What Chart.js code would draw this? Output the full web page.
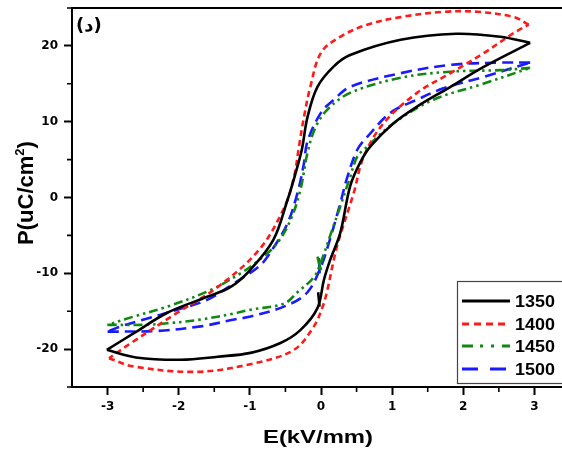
<!DOCTYPE html>
<html><head><meta charset="utf-8">
<script src="https://cdn.jsdelivr.net/npm/chart.js@4.4.0/dist/chart.umd.min.js"></script>
<style>
html,body{margin:0;padding:0;background:#fff;overflow:hidden;width:562px;height:449px}
#wrap{position:relative;width:562px;height:449px;overflow:hidden;background:#fff}
canvas{display:block}
</style></head>
<body><div id="wrap"><canvas id="c" width="572" height="449" style="width:572px;height:449px"></canvas></div>
<script>
// ---- tick definitions ----
const xMajor = [-3, -2, -1, 0, 1, 2, 3];
const xMinor = [-2.5, -1.5, -0.5, 0.5, 1.5, 2.5];
const yMajor = [-20, -10, 0, 10, 20];
const yMinor = [-25, -15, -5, 5, 15, 25];
const seriesNames = ['1350', '1400', '1450', '1500'];

// ---- 1350 ----
const e1350Up = [2.94, 2.52, 1.9, 1.12, 0.41, 0.18, -0.05, -0.19, -0.27, -0.37, -0.47, -0.67, -0.99, -1.27, -1.6, -2.16, -2.63, -3.01];
const p1350Up = [20.4, 21.2, 21.6, 20.8, 18.8, 17.3, 14.6, 10.6, 6.3, 2.8, -0.3, -5.6, -9.5, -11.8, -13.1, -15.2, -17.9, -20.1];
const e1350Dn = [-3.01, -2.6, -1.97, -1.45, -0.99, -0.57, -0.29, -0.05, 0.04, 0.13, 0.27, 0.41, 0.55, 0.7, 1.02, 1.35, 1.82, 2.28, 2.94];
const p1350Dn = [-20.1, -21.1, -21.4, -21.0, -20.5, -19.2, -17.5, -14.6, -10.9, -8.2, -4.7, 1.5, 4.6, 6.8, 9.8, 12.0, 14.6, 17.2, 20.4];
const e1350Hook = [-0.04, -0.02];
const p1350Hook = [-12.5, -14.4];

// ---- 1400 ----
const e1400Up = [2.92, 2.71, 2.2, 1.72, 1.12, 0.65, 0.27, 0.0, -0.15, -0.24, -0.31, -0.38, -0.52, -0.87, -1.45, -2.02, -2.67, -2.98];
const p1400Up = [22.8, 23.8, 24.5, 24.5, 23.8, 22.8, 21.2, 19.1, 14.6, 10.6, 6.7, 2.7, -1.4, -6.9, -11.8, -15.2, -19.2, -21.2];
const e1400Dn = [-2.98, -2.63, -1.74, -0.95, -0.38, -0.1, 0.02, 0.09, 0.18, 0.25, 0.46, 0.6, 0.88, 1.35, 1.82, 2.28, 2.71, 2.92];
const p1400Dn = [-21.2, -22.3, -23.0, -21.9, -20.1, -17.0, -14.5, -12.2, -8.2, -5.6, 0.6, 5.4, 9.8, 13.8, 16.4, 19.0, 21.7, 22.8];

// ---- 1450 ----
const e1450Up = [2.94, 2.52, 1.82, 1.12, 0.41, 0.09, -0.08, -0.19, -0.29, -0.43, -0.63, -0.89, -1.13, -1.55, -2.16, -2.63, -3.0];
const p1450Up = [17.1, 16.8, 16.6, 15.8, 13.8, 11.6, 9.2, 5.9, 1.0, -3.0, -6.2, -8.4, -10.0, -12.2, -14.4, -15.7, -16.8];
const e1450Dn = [-3.0, -2.49, -2.16, -1.69, -1.22, -0.99, -0.52, -0.33, -0.1, 0.0, 0.13, 0.27, 0.41, 0.51, 0.65, 1.02, 1.58, 2.28, 2.94];
const p1450Dn = [-16.8, -16.8, -16.6, -16.1, -15.3, -14.8, -14.0, -12.5, -10.5, -8.5, -5.0, -1.2, 2.7, 5.4, 6.7, 9.8, 12.9, 15.0, 17.1];
const e1450Hook = [-0.05, 0.0];
const p1450Hook = [-7.8, -9.6];

// ---- 1500 ----
const e1500Up = [2.94, 2.52, 1.82, 1.12, 0.41, 0.18, 0.0, -0.19, -0.24, -0.33, -0.47, -0.66, -0.85, -1.22, -1.6, -2.02, -2.49, -2.81, -3.0];
const p1500Up = [17.8, 17.8, 17.5, 16.4, 14.6, 12.9, 11.2, 7.4, 4.5, 0.6, -3.4, -6.5, -8.9, -11.3, -13.5, -14.8, -16.1, -17.0, -17.7];
const e1500Dn = [-3.0, -2.3, -1.69, -1.22, -0.99, -0.47, -0.19, 0.0, 0.13, 0.27, 0.37, 0.51, 0.65, 0.98, 1.35, 1.72, 2.28, 2.94];
const p1500Dn = [-17.7, -17.6, -17.0, -16.1, -15.7, -14.2, -12.5, -9.1, -5.4, -0.8, 2.7, 6.3, 8.0, 11.2, 12.9, 14.4, 15.9, 17.8];
const e1500Hook = [-0.03, -0.02];
const p1500Hook = [-8.0, -10.0];

const styles = {
  '1350': {color: '#000000', dash: [], legendDash: []},
  '1400': {color: '#ff1a1a', dash: [6, 4], legendDash: [7, 5]},
  '1450': {color: '#118811', dash: [9, 4, 2.5, 4, 2.5, 4], legendDash: [11, 7, 3, 8, 3, 8]},
  '1500': {color: '#1a1aff', dash: [11, 6], legendDash: [16, 12]}
};

const zip = (xs, ys) => xs.map((v, i) => ({x: v, y: ys[i]}));
const branches = [
  ['1350', e1350Up, p1350Up], ['1350', e1350Dn, p1350Dn], ['1350', e1350Hook, p1350Hook],
  ['1400', e1400Up, p1400Up], ['1400', e1400Dn, p1400Dn],
  ['1450', e1450Up, p1450Up], ['1450', e1450Dn, p1450Dn], ['1450', e1450Hook, p1450Hook],
  ['1500', e1500Up, p1500Up], ['1500', e1500Dn, p1500Dn], ['1500', e1500Hook, p1500Hook]
];
const datasets = branches.map(([name, xs, ys]) => ({
  label: name,
  data: zip(xs, ys),
  showLine: true,
  borderColor: styles[name].color,
  borderDash: xs.length > 2 ? styles[name].dash : [],
  borderWidth: 2.6,
  pointRadius: 0,
  tension: xs.length > 2 ? 0.35 : 0,
  fill: false
}));

const deco = {
  id: 'deco',
  afterDraw(chart) {
    const {ctx, chartArea: a, scales: {x, y}} = chart;
    ctx.save();
    // frame top & right
    ctx.strokeStyle = '#000';
    ctx.lineWidth = 2;
    ctx.beginPath();
    ctx.moveTo(a.left - 1, a.top);
    ctx.lineTo(a.right, a.top);
    ctx.lineTo(a.right, a.bottom);
    ctx.stroke();
    // minor ticks
    ctx.lineWidth = 1.6;
    ctx.beginPath();
    xMinor.forEach(v => { const px = x.getPixelForValue(v); ctx.moveTo(px, a.bottom); ctx.lineTo(px, a.bottom + 5); });
    yMinor.forEach(v => { const py = y.getPixelForValue(v); ctx.moveTo(a.left, py); ctx.lineTo(a.left - 5, py); });
    ctx.stroke();

    ctx.fillStyle = '#000';
    // x title
    ctx.font = 'bold 18px "Liberation Sans", Arial, sans-serif';
    ctx.textBaseline = 'alphabetic';
    ctx.textAlign = 'left';
    const xt = 'E(kV/mm)';
    const w = ctx.measureText(xt).width;
    const sx = 110 / w;
    ctx.save();
    ctx.translate(318 - 55, 443);
    ctx.scale(sx, 1);
    ctx.fillText(xt, 0, 0);
    ctx.restore();

    // y title (rotated)
    ctx.save();
    ctx.translate(33, 193);
    ctx.rotate(-Math.PI / 2);
    const big = 'bold 22px "Liberation Sans", Arial, sans-serif';
    const small = 'bold 13px "Liberation Sans", Arial, sans-serif';
    ctx.font = big;
    const t1 = 'P(uC/cm', t3 = ')';
    const w1 = ctx.measureText(t1).width, w3 = ctx.measureText(t3).width;
    ctx.font = small;
    const w2 = ctx.measureText('2').width;
    const total = w1 + w2 + w3;
    let cx = -total / 2;
    ctx.font = big;
    ctx.fillText(t1, cx, 0); cx += w1;
    ctx.font = small;
    ctx.fillText('2', cx, -9); cx += w2;
    ctx.font = big;
    ctx.fillText(t3, cx, 0);
    ctx.restore();

    // panel label
    ctx.font = 'bold 18px "DejaVu Sans", sans-serif';
    ctx.fillText('(د)', 76, 31);

    // legend
    const lx = 457, ly = 281, lw = 120, lh = 102;
    ctx.fillStyle = '#fff';
    ctx.fillRect(lx, ly, lw, lh);
    ctx.strokeStyle = '#444';
    ctx.lineWidth = 1.2;
    ctx.strokeRect(lx + 0.5, ly + 0.5, lw, lh);
    const rows = [301, 324, 346, 369];
    seriesNames.forEach((n, i) => {
      const s = styles[n];
      ctx.strokeStyle = s.color;
      ctx.lineWidth = 2.8;
      ctx.setLineDash(s.legendDash);
      ctx.beginPath();
      ctx.moveTo(462, rows[i]);
      ctx.lineTo(510, rows[i]);
      ctx.stroke();
      ctx.setLineDash([]);
      ctx.fillStyle = '#000';
      ctx.font = 'bold 16px "Liberation Sans", Arial, sans-serif';
      ctx.save();
      ctx.translate(515, rows[i] + 6);
      ctx.scale(1.12, 1);
      ctx.fillText(n, 0, 0);
      ctx.restore();
    });
    ctx.restore();
  }
};

const tickFont = {family: '"DejaVu Sans", sans-serif', size: 12, weight: 'bold'};
new Chart(document.getElementById('c'), {
  type: 'scatter',
  data: {datasets},
  options: {
    responsive: false,
    animation: false,
    devicePixelRatio: 1,
    layout: {padding: {top: 8, right: 2, left: 0, bottom: 0}},
    plugins: {legend: {display: false}, tooltip: {enabled: false}},
    scales: {
      x: {
        type: 'linear', min: -3.5, max: 3.5,
        afterFit(s) { s.height = 62; s.paddingLeft = 0; s.paddingRight = 0; },
        afterBuildTicks(s) { s.ticks = xMajor.map(v => ({value: v})); },
        ticks: {font: tickFont, color: '#000', padding: 5, includeBounds: false, callback: v => String(v)},
        grid: {display: true, drawOnChartArea: false, drawTicks: true, tickLength: 8, tickWidth: 2, tickColor: '#000'},
        border: {display: true, color: '#000', width: 2}
      },
      y: {
        type: 'linear', min: -25, max: 25,
        afterFit(s) { s.width = 72; s.paddingTop = 0; s.paddingBottom = 0; },
        afterBuildTicks(s) { s.ticks = yMajor.map(v => ({value: v})); },
        ticks: {font: tickFont, color: '#000', padding: 6, includeBounds: false, callback: v => String(v)},
        grid: {display: true, drawOnChartArea: false, drawTicks: true, tickLength: 8, tickWidth: 2, tickColor: '#000'},
        border: {display: true, color: '#000', width: 2}
      }
    }
  },
  plugins: [deco]
});
</script>
</body></html>
